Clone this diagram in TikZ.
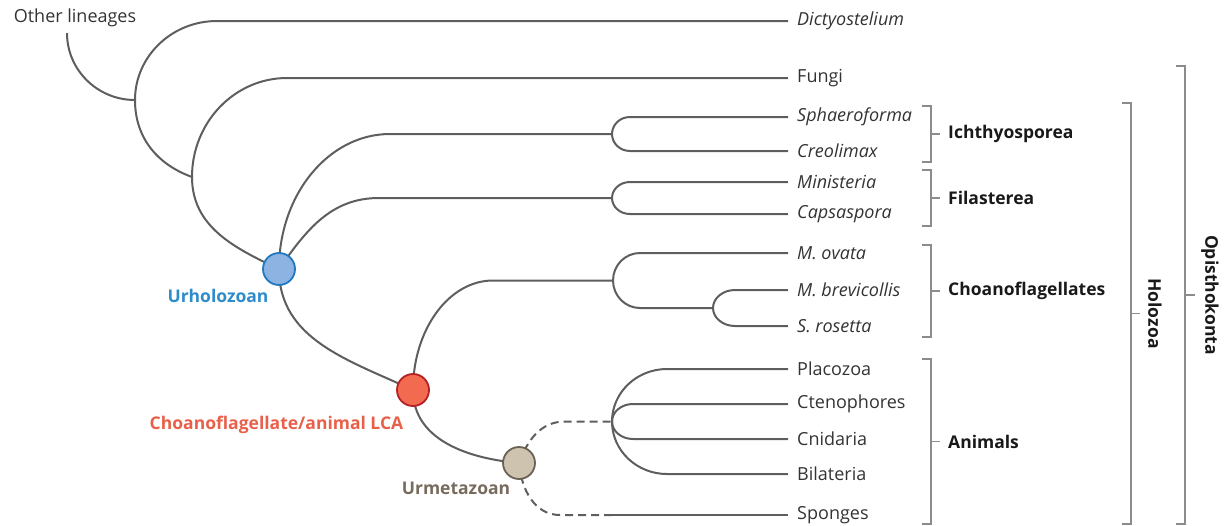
\documentclass[tikz,border=0pt]{standalone}
\usepackage{fontspec}
\setmainfont{Open Sans}
\usetikzlibrary{positioning,calc}

\definecolor{branchgray}{HTML}{5E5E5E}
\definecolor{bracketgray}{HTML}{8C8C8C}
\definecolor{leaftext}{HTML}{333333}
\definecolor{urblue}{HTML}{2F8CCB}
\definecolor{urbluefill}{HTML}{8DB3E2}
\definecolor{urblueedge}{HTML}{1F78C0}
\definecolor{lcared}{HTML}{E9604A}
\definecolor{lcafill}{HTML}{F26B50}
\definecolor{lcaedge}{HTML}{B52025}
\definecolor{metatext}{HTML}{776B5D}
\definecolor{metafill}{HTML}{CEC3AE}
\definecolor{metaedge}{HTML}{6B6256}

\tikzset{
  branch/.style={draw=branchgray, line width=2pt},
  gapline/.style={branch, dash pattern=on 8pt off 5pt},
  taxon/.style={right, inner sep=0pt, xshift=9pt, text=leaftext, font=\fontsize{18}{20}\selectfont},
  clade/.style={inner sep=0pt, text=black!90, font=\bfseries\fontsize{17.5}{20}\selectfont},
  bracket/.style={draw=bracketgray, line width=1.2pt},
  ancestor/.style={circle, minimum size=32pt, inner sep=0pt, line width=1.8pt},
  ancestorlabel/.style={inner sep=0pt, font=\bfseries\fontsize{17.5}{20}\selectfont},
}

\begin{document}
\begin{tikzpicture}[x=1pt,y=1pt]
    \useasboundingbox (0,0) rectangle (1225,-525);

    % inner forks of the tree
    \coordinate (OL) at (67,-33);
    \coordinate (R) at (135,-100);
    \coordinate (N2) at (192,-177);
    \coordinate (U) at (279,-269);
    \coordinate (C) at (413,-390);
    \coordinate (M) at (519,-463);
    \coordinate (I) at (612,-134);
    \coordinate (F) at (612,-198);
    \coordinate (Ch) at (613,-280.5);
    \coordinate (Mb) at (713,-308);
    \coordinate (A) at (612,-421.5);
    \coordinate (Sg0) at (612,-515);

    % tips
    \foreach \n/\y in {D/21, Fu/78, Sp/117, Cr/151, Mi/182, Ca/214, Mo/253,
                       Mbr/290, Sr/326, Pl/369, Ct/404, Cn/439, Bi/474, Sg/515}
    \coordinate (\n) at (788,-\y);

    \foreach \n/\t in {D/\textit{Dictyostelium}, Fu/Fungi, Sp/\textit{Sphaeroforma},
                       Cr/\textit{Creolimax}, Mi/\textit{Ministeria}, Ca/\textit{Capsaspora},
                       Mo/\textit{M.~ovata}, Mbr/\textit{M.~brevicollis}, Sr/\textit{S.~rosetta},
                       Pl/Placozoa, Ct/Ctenophores, Cn/Cnidaria, Bi/Bilateria, Sg/Sponges}
    \node[taxon] (t\n) at (\n) {\t};

    \node[taxon, anchor=center, xshift=0pt] (tOL) at (66,-18) {Other lineages};

    % backbone
    \draw[branch] (OL) arc[start angle=180, end angle=270, x radius=68, y radius=67];
    \draw[branch] (R) arc[start angle=180, end angle=90, x radius=82, y radius=79] -- (D);
    \draw[branch] (R) to[out=-90, in=160] (N2);
    \draw[branch] (N2) arc[start angle=180, end angle=90, x radius=95, y radius=99] -- (Fu);
    \draw[branch] (N2) to[out=-90, in=155] (U);
    \draw[branch] (U) arc[start angle=180, end angle=90, x radius=111, y radius=135] -- (I);
    \draw[branch] (U) to[out=55, in=180] ++(100,71) -- (F);
    \draw[branch] (U) to[out=-90, in=155] (C);
    \draw[branch] (C) arc[start angle=180, end angle=90, x radius=80, y radius=109.5] -- (Ch);
    \draw[branch] (C) to[out=-90, in=175] (M);
    \draw[gapline] (M) to[out=70, in=180] ++(46,41.5) -- (A);
    \draw[gapline] (M) to[out=-85, in=180] ++(41,-52) -- (Sg0);
    \draw[branch] (Sg0) -- (Sg);

    % small forks
    \draw[branch] (Sp) -- ++(-158,0) arc[start angle=90, end angle=270, x radius=18, y radius=17] -- (Cr);
    \draw[branch] (Mi) -- ++(-158,0) arc[start angle=90, end angle=270, x radius=18, y radius=16] -- (Ca);
    \draw[branch] (Mo) -- ++(-148,0) arc[start angle=90, end angle=270, x radius=27, y radius=27.5] -- (Mb);
    \draw[branch] (Mbr) -- ++(-53,0) arc[start angle=90, end angle=270, x radius=22, y radius=18] -- (Sr);
    \draw[branch] (Pl) -- ++(-121,0) arc[start angle=90, end angle=270, x radius=55, y radius=52.5] -- (Bi);
    \draw[branch] (Ct) -- ++(-155,0) arc[start angle=90, end angle=270, x radius=21, y radius=17.5] -- (Cn);

    % ancestors
    \node[ancestor, draw=urblueedge, fill=urbluefill] (urholozoan) at (U) {};
    \node[ancestor, draw=lcaedge, fill=lcafill] (lca) at (C) {};
    \node[ancestor, draw=metaedge, fill=metafill] (urmetazoan) at (M) {};

    \node[ancestorlabel, text=urblue] (lurholozoan) at (218,-296) {Urholozoan};
    \node[ancestorlabel, text=lcared] (llca) at (276.5,-425) {Choanoflagellate/animal LCA};
    \node[ancestorlabel, text=metatext] (lurmetazoan) at (456,-488) {Urmetazoan};

    % brackets
    \foreach \top/\bot/\name in {106/162/Ichthyosporea, 170/226/Filasterea,
                                 245/337/Choanoflagellates, 359/524/Animals}
    {
        \pgfmathsetmacro{\mid}{-(\top+\bot)/2}
        \draw[bracket] (922,-\top) -| (931,-\bot) -- (922,-\bot);
        \draw[bracket] (931,\mid) -- (940,\mid);
        \node[clade, anchor=west] (\name) at (948,\mid) {\name};
    }

    \draw[bracket] (1122,-103) -| (1131,-524) -- (1122,-524);
    \draw[bracket] (1131,-313.5) -- (1140,-313.5);
    \node[clade, rotate=-90] (holozoa) at (1155,-313.5) {Holozoa};

    \draw[bracket] (1176,-66) -| (1185,-524) -- (1176,-524);
    \draw[bracket] (1185,-295) -- (1195,-295);
    \node[clade, rotate=-90] (opisthokonta) at (1210,-295) {Opisthokonta};
\end{tikzpicture}
\end{document}
